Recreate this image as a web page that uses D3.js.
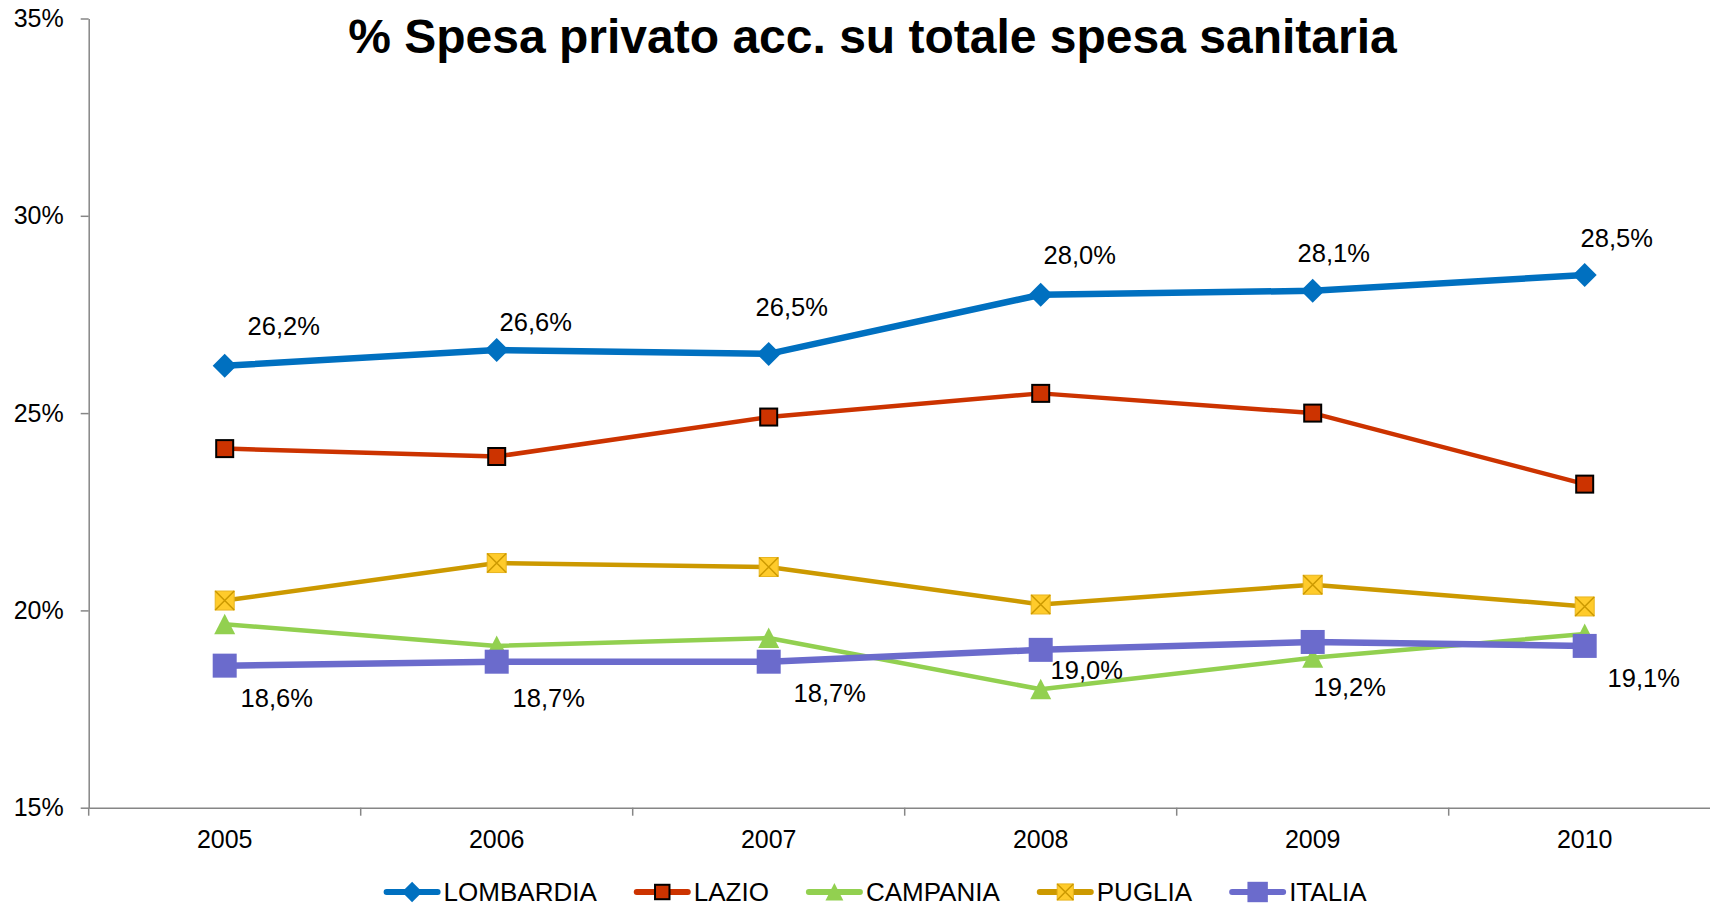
<!DOCTYPE html>
<html lang="it">
<head>
    <meta charset="UTF-8">
    <title>% Spesa privato acc. su totale spesa sanitaria</title>
    <script src="https://d3js.org/d3.v7.min.js"></script>
    <style>
        body { margin: 0; background: #fff; }
        text { font-family: "Liberation Sans", Arial, sans-serif; fill: #000; }
        .axis path, .axis line { stroke: #868686; stroke-width: 1.5; }
    </style>
</head>
<body>
    <script>
        // Dati
        const years = ["2005", "2006", "2007", "2008", "2009", "2010"];
        const lombardia = [26.2, 26.6, 26.5, 28.0, 28.1, 28.5];
        const lazio = [24.1, 23.9, 24.9, 25.5, 25.0, 23.2];
        const campania = [19.65, 19.1, 19.3, 18.0, 18.8, 19.4];
        const puglia = [20.25, 21.2, 21.1, 20.15, 20.65, 20.1];
        const italia = [18.6, 18.7, 18.7, 19.0, 19.2, 19.1];
        const yTicks = [15, 20, 25, 30, 35];

        // posizioni etichette (spostamento dal punto)
        const lombardiaLabelOffsets = [[59, -40], [39, -28], [23, -47], [39, -40], [21, -38], [32, -37]];
        const italiaLabelOffsets = [[52, 32], [52, 36], [61, 31], [46, 20], [37, 45], [59, 32]];

        const series = [
            { name: "LOMBARDIA", values: lombardia, color: "#0070C0", width: 6.5, marker: "diamond", fill: "#0070C0" },
            { name: "LAZIO", values: lazio, color: "#CC3300", width: 4.5, marker: "squareOutlined", fill: "#CC3300" },
            { name: "CAMPANIA", values: campania, color: "#92D050", width: 4.5, marker: "triangle", fill: "#92D050" },
            { name: "PUGLIA", values: puglia, color: "#CC9900", width: 4.5, marker: "xsquare", fill: "#FFCB2B" },
            { name: "ITALIA", values: italia, color: "#6B6BCC", width: 6.5, marker: "square", fill: "#6B6BCC" }
        ];

        const width = 1710, height = 907;
        const plotLeft = 88.7, plotBottom = 807.7, plotTop = 18.5;

        const svg = d3.select("body").append("svg")
            .attr("width", width)
            .attr("height", height);

        const x = d3.scaleBand().domain(years).range([plotLeft, plotLeft + 272 * years.length]).padding(0);
        const cx = d => x(d) + x.bandwidth() / 2;
        const y = d3.scaleLinear().domain([15, 35]).range([plotBottom, plotTop]);

        // Asse Y
        svg.append("g")
            .attr("class", "axis")
            .attr("transform", `translate(${plotLeft},0)`)
            .call(d3.axisLeft(y).tickValues(yTicks).tickSize(8).tickPadding(17).tickSizeOuter(0).tickFormat(d => d + "%"))
            .call(g => g.selectAll("text").style("font-size", "25px").attr("font-family", null));

        // Asse X
        const xAxis = svg.append("g")
            .attr("class", "axis")
            .attr("transform", `translate(0,${plotBottom})`)
            .call(d3.axisBottom(x).tickSize(0).tickPadding(22.5).tickSizeOuter(0))
            .call(g => g.selectAll("text").style("font-size", "25px").attr("font-family", null));

        xAxis.selectAll(".boundary")
            .data(years)
            .enter().append("line")
            .attr("class", "boundary")
            .attr("x1", d => x(d)).attr("x2", d => x(d))
            .attr("y1", 0).attr("y2", 8);

        // Marcatori
        function drawMarker(g, type, fill, stroke, px, py, s) {
            if (type === "diamond") {
                const r = 12 * s;
                g.append("path")
                    .attr("d", `M${px},${py - r}L${px + r},${py}L${px},${py + r}L${px - r},${py}Z`)
                    .attr("fill", fill);
            } else if (type === "squareOutlined") {
                const h = 8.5 * s;
                g.append("rect")
                    .attr("x", px - h).attr("y", py - h)
                    .attr("width", 2 * h).attr("height", 2 * h)
                    .attr("fill", fill).attr("stroke", "#000").attr("stroke-width", 2);
            } else if (type === "triangle") {
                const h = 10.5 * s;
                g.append("path")
                    .attr("d", `M${px},${py - h}L${px + h},${py + h * 0.95}L${px - h},${py + h * 0.95}Z`)
                    .attr("fill", fill);
            } else if (type === "xsquare") {
                const h = 9.5 * s;
                g.append("rect")
                    .attr("x", px - h).attr("y", py - h)
                    .attr("width", 2 * h).attr("height", 2 * h)
                    .attr("fill", fill).attr("stroke", "#E8B520").attr("stroke-width", 1);
                g.append("path")
                    .attr("d", `M${px - h},${py - h}L${px + h},${py + h}M${px + h},${py - h}L${px - h},${py + h}`)
                    .attr("stroke", stroke).attr("stroke-width", 1.5);
            } else if (type === "square") {
                const h = 12 * s;
                g.append("rect")
                    .attr("x", px - h).attr("y", py - h)
                    .attr("width", 2 * h).attr("height", 2 * h)
                    .attr("fill", fill);
            }
        }

        const line = d3.line().x((d, i) => cx(years[i])).y(d => y(d));

        series.forEach(s => {
            const g = svg.append("g");
            g.append("path")
                .datum(s.values)
                .attr("d", line)
                .attr("fill", "none")
                .attr("stroke", s.color)
                .attr("stroke-width", s.width)
                .attr("stroke-linejoin", "round");
            s.values.forEach((v, i) => drawMarker(g, s.marker, s.fill, s.color, cx(years[i]), y(v), 1));
        });

        // Etichette dati
        const fmt = v => v.toFixed(1).replace(".", ",") + "%";
        function addLabels(values, offsets) {
            svg.append("g").selectAll("text")
                .data(values)
                .enter().append("text")
                .attr("x", (d, i) => cx(years[i]) + offsets[i][0])
                .attr("y", (d, i) => y(d) + offsets[i][1])
                .attr("text-anchor", "middle")
                .attr("dy", "0.35em")
                .style("font-size", "25.5px")
                .text(fmt);
        }
        addLabels(lombardia, lombardiaLabelOffsets);
        addLabels(italia, italiaLabelOffsets);

        // Titolo
        svg.append("text")
            .attr("x", 872.5)
            .attr("y", 53)
            .attr("text-anchor", "middle")
            .style("font-size", "48px")
            .style("font-weight", "bold")
            .text("% Spesa privato acc. su totale spesa sanitaria");

        // Legenda
        const legend = svg.append("g").attr("transform", "translate(383.6,892)");
        let lx = 0;
        series.forEach(s => {
            const item = legend.append("g").attr("transform", `translate(${lx},0)`);
            item.append("line")
                .attr("x1", 3).attr("x2", 54)
                .attr("y1", 0).attr("y2", 0)
                .attr("stroke", s.color)
                .attr("stroke-width", 6)
                .attr("stroke-linecap", "round");
            drawMarker(item, s.marker, s.fill, s.color, 28.5, 0, 0.85);
            const t = item.append("text")
                .attr("x", 60)
                .attr("dy", "0.35em")
                .style("font-size", "26px")
                .text(s.name);
            lx += 60 + t.node().getComputedTextLength() + 37;
        });
    </script>
</body>
</html>
